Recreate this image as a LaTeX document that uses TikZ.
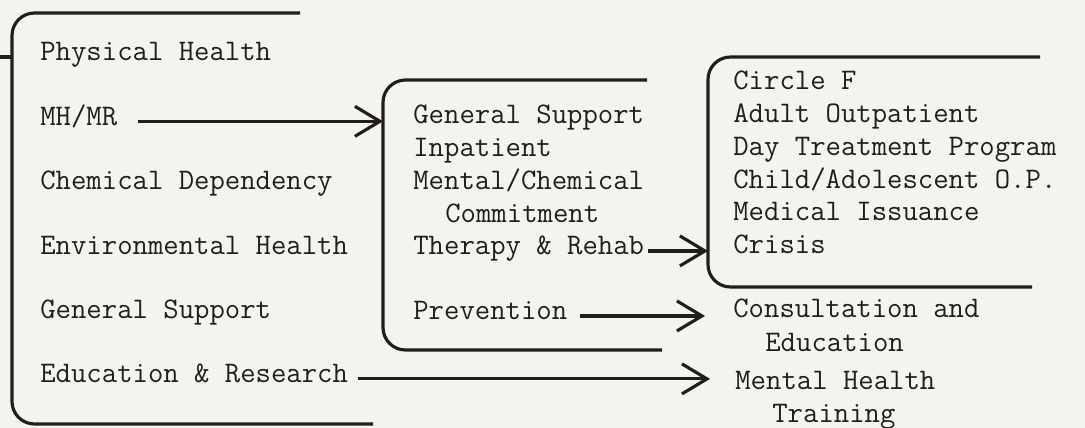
\documentclass[tikz,border=0pt]{standalone}
\usepackage{tikz}
\usetikzlibrary{positioning}
\usetikzlibrary{arrows.meta}
\usepackage{xcolor}

\definecolor{paper}{HTML}{F4F4EE}
\definecolor{ink}{HTML}{211D1D}

\tikzset{
  item/.style={inner sep=0pt, text height=0.7em, text depth=0.24em,
    font={\fontsize{17}{20}\selectfont\ttfamily}, text=ink},
  brace/.style={draw=ink, line width=1.8pt, rounded corners=0.45cm},
  flow/.style={draw=ink, line width=1.8pt, -{Straight Barb[length=0.5cm, width=0.6cm]}},
}

\begin{document}
\begin{tikzpicture}[x=0.02cm, y=-0.02cm]
    % Paper
    \fill[paper] (0,0) rectangle (1085,428);
    \useasboundingbox (0,0) rectangle (1085,428);

    % Divisions
    \node (phys) [item, anchor=base west] at (40,61) {Physical Health};
    \node (mhmr) [item, below=1.288cm of phys.base west, anchor=base west] {MH/MR};
    \node (chemdep) [item, below=1.288cm of mhmr.base west, anchor=base west] {Chemical Dependency};
    \node (envhealth) [item, below=1.288cm of chemdep.base west, anchor=base west] {Environmental Health};
    \node (gensupport) [item, below=1.288cm of envhealth.base west, anchor=base west] {General Support};
    \node (edures) [item, below=1.288cm of gensupport.base west, anchor=base west] {Education \& Research};

    % MH/MR programs
    \node (gensup) [item, anchor=base west] at (413,124) {General Support};
    \node (inpat) [item, below=0.655cm of gensup.base west, anchor=base west] {Inpatient};
    \node (mentchem) [item, below=0.655cm of inpat.base west, anchor=base west] {Mental/Chemical};
    \node (commit) [item, below right=0.655cm and 0.64cm of mentchem.base west, anchor=base west] {Commitment};
    \node (therapy) [item, below=1.31cm of mentchem.base west, anchor=base west] {Therapy \& Rehab};
    \node (prevent) [item, anchor=base west] at (413,320) {Prevention};

    % Therapy & Rehab units
    \node (circf) [item, anchor=base west] at (733,90) {Circle F};
    \node (adultop) [item, below=0.654cm of circf.base west, anchor=base west] {Adult Outpatient};
    \node (daytreat) [item, below=0.654cm of adultop.base west, anchor=base west] {Day Treatment Program};
    \node (childop) [item, below=0.654cm of daytreat.base west, anchor=base west] {Child/Adolescent O.P.};
    \node (medissue) [item, below=0.654cm of childop.base west, anchor=base west] {Medical Issuance};
    \node (crisis) [item, below=0.654cm of medissue.base west, anchor=base west] {Crisis};

    % Other outputs
    \node (consult) [item, anchor=base west] at (733,318) {Consultation and};
    \node (consedu) [item, below right=0.68cm and 0.64cm of consult.base west, anchor=base west] {Education};
    \node (mhealth) [item, anchor=base west] at (735,390) {Mental Health};
    \node (mhtrain) [item, below right=0.66cm and 0.74cm of mhealth.base west, anchor=base west] {Training};

    % Brackets
    \draw[brace] (300,13) -- (12,13) -- (12,424) -- (373,424);
    \draw[brace] (0,57) -- (12,57);
    \draw[brace] (647,80) -- (383,80) -- (383,350) -- (662,350);
    \draw[brace] (1040,57) -- (708,57) -- (708,287) -- (1032,287);
    \coordinate (midin) at (383,117);
    \coordinate (rightin) at (708,249);

    % Arrows
    \draw[flow, shorten <=0.4cm] (mhmr.east) -- (mhmr.east -| midin);
    \draw[flow, shorten <=0.08cm] (therapy.east) -- (therapy.east -| rightin);
    \draw[flow, shorten <=0.24cm, shorten >=0.56cm] (prevent.east) -- (prevent.east -| consult.west);
    \draw[flow, shorten <=0.2cm, shorten >=0.5cm] (edures.east) -- (edures.east -| mhealth.west);
\end{tikzpicture}
\end{document}
